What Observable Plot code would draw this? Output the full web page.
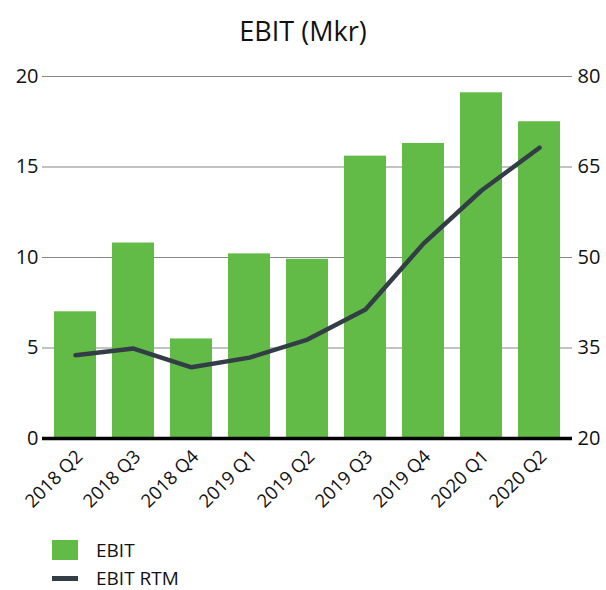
<!DOCTYPE html>
<html><head><meta charset="utf-8">
<script src="https://cdn.jsdelivr.net/npm/d3@7"></script>
<script src="https://cdn.jsdelivr.net/npm/@observablehq/plot@0.6"></script>
<style>
body{margin:0;background:#fff;font-family:"Open Sans","Noto Sans",sans-serif;color:#111;}
#title{height:56px;line-height:62px;text-align:center;font-size:27px;}
#legend{padding-left:52px;padding-top:7px;font-size:19px;line-height:1;}
.row{display:flex;align-items:center;}
.sw{width:26px;margin-right:18px;}
</style></head>
<body>
<div id="title">EBIT (Mkr)</div>
<div id="chart" style="height:472px"></div>
<div id="legend">
  <div class="row" style="height:30px"><div class="sw" style="height:20px;background:#62bb46"></div><span>EBIT</span></div>
  <div class="row" style="height:26px"><div class="sw" style="height:5px;background:#333d45"></div><span>EBIT RTM</span></div>
</div>
<script>
const quarters = ["2018 Q2","2018 Q3","2018 Q4","2019 Q1","2019 Q2","2019 Q3","2019 Q4","2020 Q1","2020 Q2"];
const ebit = [7.0,10.8,5.5,10.2,9.9,15.6,16.3,19.1,17.5];
const ebitRTM = [33.8,34.9,31.8,33.4,36.4,41.4,52.3,61.1,68.2];
const leftTicks = [0,5,10,15,20];
const rightTicks = [20,35,50,65,80];

const rightMin = rightTicks[0], rightMax = rightTicks[rightTicks.length-1];
const leftMax = leftTicks[leftTicks.length-1];
const toLeft = v => (v - rightMin) / (rightMax - rightMin) * leftMax;

const bars = quarters.map((q,i)=>({q, v: ebit[i]}));
const line = quarters.map((q,i)=>({q, v: toLeft(ebitRTM[i])}));

const chart = Plot.plot({
  width: 606, height: 472,
  marginTop: 20, marginBottom: 90, marginLeft: 42, marginRight: 34,
  style: {fontFamily: "'Open Sans', 'Noto Sans', sans-serif", fontSize: "18px", color: "#111", background: "#fff"},
  x: {domain: quarters, paddingInner: 0.28, paddingOuter: 0.2, label: null},
  y: {domain: [0, leftMax], label: null},
  marks: [
    Plot.ruleY(leftTicks.filter(d=>d>0), {stroke: "#888", strokeWidth: 1.2, strokeOpacity: 1}),
    Plot.barY(bars, {x: "q", y: "v", fill: "#62bb46"}),
    Plot.ruleY([0], {stroke: "#000", strokeWidth: 3.5}),
    Plot.line(line, {x: "q", y: "v", stroke: "#333d45", strokeWidth: 4.5, strokeLinejoin: "round"}),
    Plot.axisY(leftTicks, {anchor: "left", tickSize: 0, tickPadding: 4, fontSize: 20, label: null}),
    Plot.axisY(leftTicks, {anchor: "right", tickSize: 0, tickPadding: 5, fontSize: 20, label: null,
      tickFormat: (d, i) => String(rightTicks[i])}),
    Plot.axisX(quarters, {tickSize: 0, tickRotate: -45, tickPadding: 15, fontSize: 18.5, label: null, dx: 4})
  ]
});
document.getElementById("chart").appendChild(chart);
</script>
</body></html>
